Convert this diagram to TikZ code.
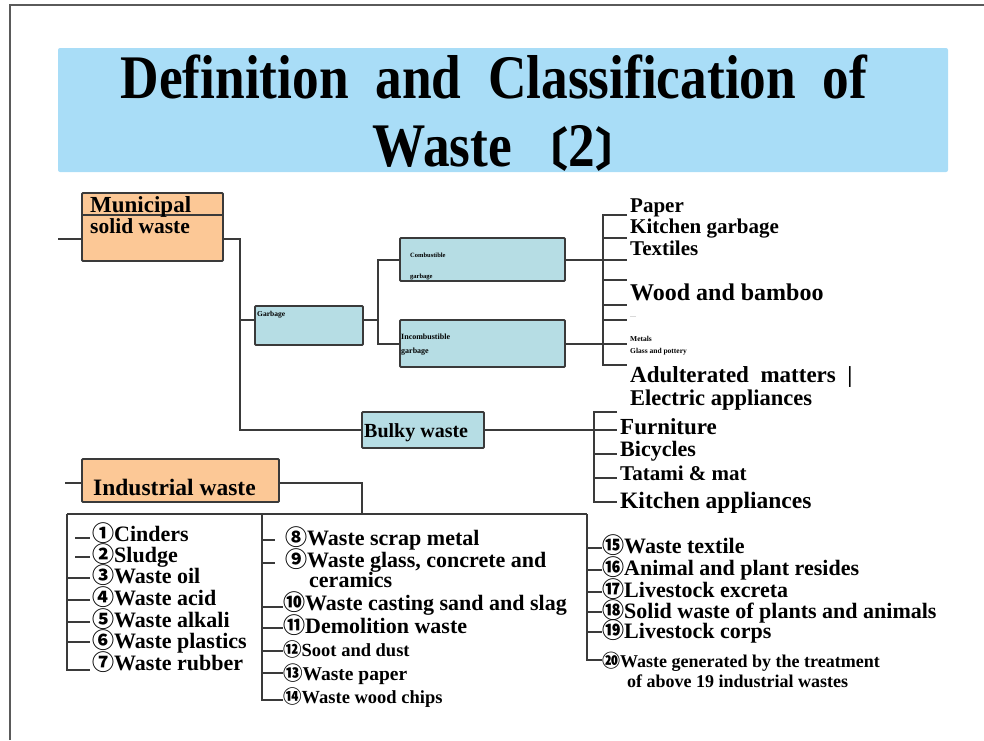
\documentclass[tikz,border=0pt]{standalone}
\usepackage{fontspec}
\setmainfont{Liberation Serif}
\newfontfamily\cjk{Noto Sans CJK SC}
\newfontfamily\titlefont[FakeStretch=0.86]{Liberation Serif}
\definecolor{linec}{HTML}{3A3A3A}
\definecolor{peach}{HTML}{FCC896}
\definecolor{tealc}{HTML}{B6DDE4}
\definecolor{titleblue}{HTML}{A9DDF7}
\definecolor{framec}{HTML}{5A5A5A}
\newcommand{\cn}[1]{{\cjk\bfseries #1}}
\tikzset{
  ln/.style={draw=linec, line width=1.5pt},
  obox/.style={draw=linec, fill=peach, line width=1.8pt, rounded corners=1pt, inner sep=0pt},
  tbox/.style={draw=linec, fill=tealc, line width=1.8pt, rounded corners=1pt, inner sep=0pt},
  itm/.style={anchor=base west, inner sep=0pt, font=\bfseries\fontsize{22}{23}\selectfont},
  tiny/.style={anchor=base west, inner sep=0pt, font=\bfseries\fontsize{7.5}{8}\selectfont},
}
\begin{document}
\begin{tikzpicture}[x=1pt,y=-1pt]
\useasboundingbox (0,0) rectangle (984,740);
% frame
\draw[framec, line width=2.5pt] (10,740) -- (10,5) -- (984,5);
% title
\node[fill=titleblue, minimum width=890pt, minimum height=124pt, rounded corners=2pt] (title) at (503,110) {};
\node[anchor=base, inner sep=0pt, font=\titlefont\bfseries\fontsize{62}{64}\selectfont] (t1) at (494,98) {Definition\ \ and\ \ Classification\ \ of};
\node[anchor=base, inner sep=0pt, font=\titlefont\bfseries\fontsize{62}{64}\selectfont] (t2) at (507,166) {Waste\,{\cjk\fontsize{46}{46}\selectfont 〔}2{\cjk\fontsize{46}{46}\selectfont 〕}};

% municipal solid waste
\node[obox, minimum width=141pt, minimum height=68pt] (msw) at (152.5,227) {};
\draw[draw=linec, line width=1.5pt] (msw.west |- 0,215) -- (msw.east |- 0,215);
\node[itm, font=\bfseries\fontsize{23}{24}\selectfont] (mswt1) at (90,212) {Municipal};
\node[itm, font=\bfseries\fontsize{21.5}{22}\selectfont] (mswt2) at (90,233) {solid waste};
\coordinate (mstub) at (58,239);
\draw[ln] (mstub) -- (mstub -| msw.west);

% garbage etc
\node[tbox, minimum width=108pt, minimum height=39pt] (garb) at (309,325.5) {};
\node[tiny] (garbt) at (257,316) {Garbage};
\node[tbox, minimum width=165pt, minimum height=43pt] (comb) at (482.5,259.5) {};
\node[tiny, font=\bfseries\fontsize{6.5}{7}\selectfont] (combt1) at (410,257) {Combustible};
\node[tiny, font=\bfseries\fontsize{6.5}{7}\selectfont] (combt2) at (410,278) {garbage};
\node[tbox, minimum width=165pt, minimum height=47pt] (incomb) at (482.5,343.5) {};
\node[tiny, font=\bfseries\fontsize{8}{8}\selectfont] (incombt1) at (401,339) {Incombustible};
\node[tiny, font=\bfseries\fontsize{8}{8}\selectfont] (incombt2) at (401,353) {garbage};
\node[tbox, minimum width=122pt, minimum height=36pt] (bulky) at (423,430) {};
\node[itm, font=\bfseries\fontsize{20}{21}\selectfont] (bulkyt) at (364,437) {Bulky waste};

\coordinate (j1) at (240,239);
\draw[ln] (msw.east |- j1) -- (j1) -- (j1 |- bulky.west) -- (bulky.west);
\draw[ln] (j1 |- 0,320) -- (garb.west |- 0,320);
\coordinate (j2a) at (378,260);
\coordinate (j2b) at (378,344);
\draw[ln] (garb.east |- 0,320) -- (j2a |- 0,320);
\draw[ln] (comb.west |- j2a) -- (j2a) -- (j2b) -- (incomb.west |- j2b);

% list of garbage items
\coordinate (la) at (603,215);
\coordinate (lb) at (603,365);
\draw[ln] (comb.east |- 0,260) -- (la |- 0,260);
\draw[ln] (incomb.east |- 0,344) -- (la |- 0,344);
\draw[ln] (627,215) -- (la) -- (lb) -- (627,365);
\foreach \yy in {238,260,280,305,320,344} \draw[ln] (603,\yy) -- (627,\yy);
\node[itm, font=\bfseries\fontsize{21}{22}\selectfont] (paper) at (630,212) {Paper};
\node[itm, font=\bfseries\fontsize{21}{22}\selectfont] (kitchen) at (630,233) {Kitchen garbage};
\node[itm, font=\bfseries\fontsize{21}{22}\selectfont] (textiles) at (630,255) {Textiles};
\node[itm, font=\bfseries\fontsize{24}{25}\selectfont] (wood) at (630,300) {Wood and bamboo};
\node[tiny, font=\fontsize{6}{6}\selectfont, text=gray] (dash) at (630,318) {---};
\node[tiny] (metals) at (630,341) {Metals};
\node[tiny] (glass) at (630,353) {Glass and pottery};
\node[itm, font=\bfseries\fontsize{23}{24}\selectfont] (adult) at (630,382) {Adulterated\ \ matters\ \ |};
\node[itm, font=\bfseries\fontsize{22.5}{24}\selectfont] (elec) at (630,405) {Electric appliances};

% bulky list
\coordinate (ba) at (594,412);
\coordinate (bb) at (594,502);
\draw[ln] (bulky.east) -- (ba |- bulky.east);
\draw[ln] (617,412) -- (ba) -- (bb) -- (617,502);
\foreach \yy in {454,478} \draw[ln] (594,\yy) -- (617,\yy);
\draw[ln] (ba |- bulky.east) -- (617,430);
\node[itm, font=\bfseries\fontsize{23}{24}\selectfont] (furn) at (620,434) {Furniture};
\node[itm, font=\bfseries\fontsize{22}{24}\selectfont] (bicy) at (620,456) {Bicycles};
\node[itm, font=\bfseries\fontsize{21}{24}\selectfont] (tatami) at (620,480) {Tatami \& mat};
\node[itm, font=\bfseries\fontsize{23.5}{24}\selectfont] (kitapp) at (620,508) {Kitchen appliances};

% industrial waste
\node[obox, minimum width=197pt, minimum height=43pt] (ind) at (180.5,480.5) {};
\node[itm, font=\bfseries\fontsize{23.5}{24}\selectfont] (indt) at (93,495) {Industrial waste};
\coordinate (istub) at (65,483);
\draw[ln] (istub) -- (istub -| ind.west);
\coordinate (ij) at (362,483);
\draw[ln] (ind.east |- ij) -- (ij) -- (362,514);
\coordinate (c1) at (67,514);
\coordinate (c2) at (262,514);
\coordinate (c3) at (587,514);
\draw[ln] (c1) -- (c3);
% column 1
\draw[ln] (c1) -- (67,670) -- (90,670);
\foreach \yy in {538,557} \draw[ln] (75,\yy) -- (90,\yy);
\foreach \yy in {578,600,622,642} \draw[ln] (67,\yy) -- (90,\yy);
\node[itm] (i1) at (92,541) {\cn{①}Cinders};
\node[itm] (i2) at (92,562) {\cn{②}Sludge};
\node[itm] (i3) at (92,583) {\cn{③}Waste oil};
\node[itm] (i4) at (92,605) {\cn{④}Waste acid};
\node[itm] (i5) at (92,627) {\cn{⑤}Waste alkali};
\node[itm] (i6) at (92,648) {\cn{⑥}Waste plastics};
\node[itm] (i7) at (92,670) {\cn{⑦}Waste rubber};
% column 2
\draw[ln] (c2) -- (262,700) -- (283,700);
\foreach \yy in {540,563} \draw[ln] (262,\yy) -- (275,\yy);
\foreach \yy in {607,628,651,673} \draw[ln] (262,\yy) -- (283,\yy);
\node[itm] (i8) at (285,545) {\cn{⑧}Waste scrap metal};
\node[itm] (i9) at (285,567) {\cn{⑨}Waste glass, concrete and};
\node[itm] (i9b) at (309,587) {ceramics};
\node[itm] (i10) at (283,610) {\cn{⑩}Waste casting sand and slag};
\node[itm] (i11) at (283,633) {\cn{⑪}Demolition waste};
\node[itm, font=\bfseries\fontsize{18.5}{20}\selectfont] (i12) at (283,656) {\cn{⑫}Soot and dust};
\node[itm, font=\bfseries\fontsize{19.5}{20}\selectfont] (i13) at (283,680) {\cn{⑬}Waste paper};
\node[itm, font=\bfseries\fontsize{18.5}{20}\selectfont] (i14) at (283,703) {\cn{⑭}Waste wood chips};
% column 3
\draw[ln] (c3) -- (587,660) -- (602,660);
\foreach \yy in {548,570,592,612,632} \draw[ln] (587,\yy) -- (602,\yy);
\node[itm] (i15) at (602,553) {\cn{⑮}Waste textile};
\node[itm] (i16) at (602,575) {\cn{⑯}Animal and plant resides};
\node[itm] (i17) at (602,597) {\cn{⑰}Livestock excreta};
\node[itm] (i18) at (602,618) {\cn{⑱}Solid waste of plants and animals};
\node[itm] (i19) at (602,638) {\cn{⑲}Livestock corps};
\node[itm, font=\bfseries\fontsize{18}{20}\selectfont] (i20) at (602,667) {\cn{⑳}Waste generated by the treatment};
\node[itm, font=\bfseries\fontsize{18}{20}\selectfont] (i20b) at (627,687) {of above 19 industrial wastes};
\end{tikzpicture}
\end{document}
